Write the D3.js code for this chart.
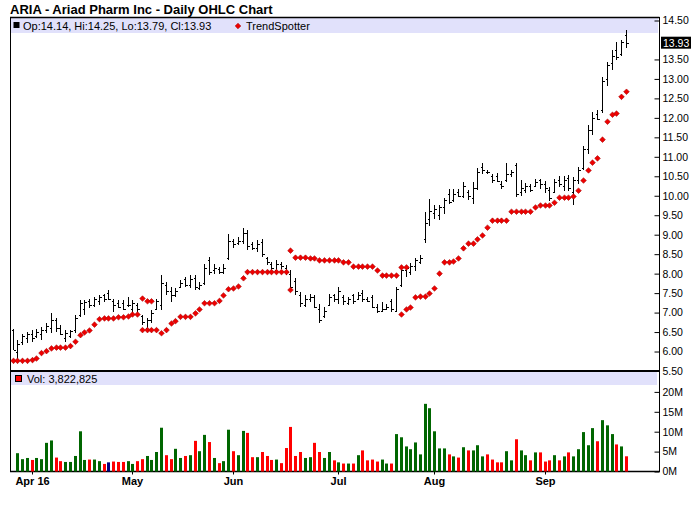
<!DOCTYPE html>
<html>
<head>
<meta charset="utf-8">
<script src="https://cdn.jsdelivr.net/npm/d3@7"></script>
<style>
body{margin:0;background:#fff;}
text{font-family:"Liberation Sans",Arial,Helvetica,sans-serif;}
</style>
</head>
<body>
<script>
var N=null;
var symbol="ARIA",company="Ariad Pharm Inc";
// daily bars, 28 Mar 2016 .. 27 Sep 2016
var opens=[6.55,6.00,6.25,6.35,6.45,6.40,6.45,6.55,6.60,6.80,
 6.60,6.35,6.40,6.55,6.95,7.10,7.30,7.20,7.30,7.45,
 7.50,7.30,7.25,7.25,7.20,7.10,7.20,6.90,6.60,6.80,
 7.10,7.20,7.70,7.55,7.45,7.65,7.85,7.70,7.90,7.62,
 7.75,8.35,8.10,8.12,8.05,8.40,8.85,8.78,8.85,9.05,
 8.75,8.65,8.80,8.40,8.25,8.10,8.25,8.15,8.00,7.80,
 7.45,7.20,7.35,7.40,7.10,6.90,7.20,7.45,7.35,7.40,
 7.25,7.45,7.35,7.50,7.35,7.40,7.15,7.05,7.10,7.30,
 7.05,7.70,8.10,8.05,8.20,8.30,8.90,9.40,9.55,9.50,
 9.70,10.05,9.90,10.10,10.00,10.10,9.95,10.20,10.75,10.62,
 10.50,10.50,10.30,10.40,10.55,10.80,10.10,10.15,10.25,10.25,
 10.40,10.30,10.15,10.10,10.40,10.25,10.45,10.10,10.40,10.70,
 11.20,11.70,12.10,12.20,13.00,13.40,13.75,13.65,14.14];
var highs=[6.59,6.29,6.46,6.51,6.55,6.59,6.64,6.72,6.98,6.85,
 6.68,6.55,6.55,6.94,7.32,7.32,7.36,7.41,7.45,7.49,
 7.58,7.36,7.32,7.32,7.41,7.32,7.24,6.94,6.85,7.06,
 7.36,7.96,7.79,7.66,7.62,7.83,7.92,7.96,7.96,7.79,
 8.26,8.43,8.26,8.18,8.24,9.03,8.90,8.94,9.18,9.13,
 8.82,8.86,8.90,8.43,8.30,8.35,8.30,8.22,8.09,7.88,
 7.53,7.45,7.49,7.45,7.23,7.15,7.49,7.49,7.66,7.45,
 7.41,7.49,7.53,7.58,7.41,7.45,7.23,7.28,7.23,7.36,
 7.66,8.18,8.22,8.28,8.40,8.47,9.59,9.91,9.76,9.77,
 9.93,10.18,10.18,10.18,10.35,10.14,10.35,10.70,10.83,10.67,
 10.55,10.59,10.37,10.83,10.65,10.85,10.40,10.33,10.31,10.44,
 10.44,10.37,10.23,10.44,10.50,10.50,10.53,10.48,10.74,11.29,
 11.81,12.15,12.21,13.06,13.43,13.73,13.94,14.00,14.25];
var lows=[6.04,5.78,6.17,6.21,6.25,6.34,6.29,6.47,6.47,6.51,
 6.42,6.25,6.34,6.47,6.89,6.94,7.11,7.15,7.19,7.28,
 7.32,7.02,7.11,7.06,7.15,6.98,7.02,6.68,6.51,6.72,
 7.06,7.06,7.45,7.28,7.41,7.62,7.66,7.62,7.58,7.58,
 7.71,7.96,8.00,8.00,7.98,8.35,8.65,8.73,8.77,8.60,
 8.60,8.56,8.43,8.22,8.09,8.00,8.13,7.96,7.58,7.45,
 7.15,7.15,7.28,7.11,6.72,6.85,7.19,7.28,7.23,7.19,
 7.19,7.23,7.32,7.28,7.28,7.11,6.99,7.02,7.06,7.02,
 7.02,7.66,7.92,7.96,8.08,8.26,8.79,9.23,9.41,9.39,
 9.54,9.80,9.84,9.97,9.93,9.88,9.80,10.14,10.57,10.55,
 10.34,10.35,10.18,10.35,10.48,9.97,10.00,10.06,10.10,10.23,
 10.18,10.06,9.87,10.06,10.23,10.12,10.12,9.76,10.31,10.65,
 11.08,11.55,11.94,12.12,12.83,13.22,13.49,13.60,13.79];
var closes=[6.05,6.20,6.40,6.45,6.35,6.50,6.55,6.65,6.80,6.60,
 6.45,6.48,6.52,6.85,7.25,7.28,7.20,7.35,7.40,7.35,
 7.35,7.20,7.15,7.10,7.20,7.25,7.10,6.75,6.80,7.00,
 7.30,7.75,7.55,7.45,7.55,7.75,7.70,7.85,7.65,7.72,
 8.15,8.05,8.15,8.05,8.15,8.85,8.75,8.85,9.05,8.70,
 8.65,8.75,8.50,8.30,8.15,8.25,8.20,8.05,7.65,7.55,
 7.25,7.35,7.40,7.15,6.80,7.05,7.40,7.35,7.55,7.30,
 7.35,7.30,7.45,7.35,7.30,7.15,7.05,7.10,7.15,7.10,
 7.60,8.10,8.15,8.20,8.35,8.40,9.30,9.60,9.65,9.70,
 9.90,9.85,10.05,10.00,10.25,10.00,10.20,10.60,10.65,10.60,
 10.40,10.38,10.25,10.55,10.60,10.05,10.20,10.25,10.15,10.35,
 10.30,10.20,9.95,10.35,10.30,10.40,10.20,10.40,10.65,11.20,
 11.70,12.00,11.98,12.95,13.35,13.60,13.55,13.95,13.93];
// volume in millions of shares
var volumes=[N,4.6,3.1,3.4,2.9,3.4,3.1,7.2,7.8,3.5,
 2.6,2.4,2.4,3.9,10.1,2.9,3.0,3.0,2.6,1.9,
 2.3,2.5,2.4,2.4,2.6,1.9,2.6,3.1,3.9,2.9,
 4.9,11.0,4.1,3.1,5.7,3.4,3.9,4.1,7.7,5.1,
 9.2,7.4,3.4,2.1,2.6,10.5,5.1,4.1,10.2,9.7,
 3.6,3.6,4.9,3.9,2.9,3.0,2.1,5.9,11.2,3.9,
 4.9,3.4,3.6,7.2,4.9,3.4,4.9,2.8,2.3,2.0,
 2.0,2.0,4.1,5.3,2.8,3.0,2.5,3.0,2.0,2.0,
 9.4,8.6,6.3,5.6,7.3,4.3,17.0,15.9,10.1,5.8,
 5.8,4.3,3.8,3.5,6.1,5.3,5.3,6.6,3.8,4.3,
 3.0,2.3,2.3,5.1,2.8,8.1,5.3,4.1,2.8,4.8,
 4.8,2.5,2.8,4.1,2.8,3.8,4.8,3.8,5.6,9.9,
 6.6,10.9,7.6,12.9,11.6,9.4,6.8,6.3,3.822825];
// TrendSpotter stops, below and above price
var trendBelow=[5.76,5.76,5.76,5.76,5.78,5.82,5.96,6.01,6.08,6.10,
 6.10,6.10,6.14,6.25,6.42,6.49,6.54,6.69,6.83,6.85,
 6.85,6.85,6.88,6.88,6.90,6.95,6.95,6.55,6.55,6.55,
 6.55,6.47,6.55,6.72,6.78,6.89,6.89,6.89,6.98,7.08,
 7.24,7.24,7.24,7.30,7.44,7.60,7.62,7.67,7.88,8.04,
 8.04,8.04,8.04,8.04,8.04,8.04,8.04,8.04,7.58,N,
 N,N,N,N,N,N,N,N,N,N,
 N,N,N,N,N,N,N,N,N,N,
 N,6.95,7.08,7.13,7.39,7.41,7.41,7.49,7.62,8.00,
 8.29,8.29,8.31,8.39,8.65,8.77,8.77,8.88,8.98,9.18,
 9.36,9.36,9.36,9.36,9.59,9.59,9.59,9.59,9.59,9.70,
 9.75,9.75,9.75,9.82,9.95,9.95,9.95,9.98,10.13,10.39,
 10.65,10.85,10.96,11.44,11.90,12.08,12.11,12.54,12.67];
var trendAbove=[N,N,N,N,N,N,N,N,N,N,
 N,N,N,N,N,N,N,N,N,N,
 N,N,N,N,N,N,N,7.36,7.29,7.29,
 N,N,N,N,N,N,N,N,N,N,
 N,N,N,N,N,N,N,N,N,N,
 N,N,N,N,N,N,N,N,8.59,8.41,
 8.41,8.41,8.39,8.39,8.34,8.34,8.34,8.34,8.34,8.29,
 8.29,8.18,8.18,8.18,8.18,8.18,8.08,7.95,7.95,7.95,
 7.95,8.16,8.16,N,N,N,N,N,N,N,
 N,N,N,N,N,N,N,N,N,N,
 N,N,N,N,N,N,N,N,N,N,
 N,N,N,N,N,N,N,N,N,N,
 N,N,N,N,N,N,N,N,N];
var monthIndex=[4,25,46,68,88,111];
var monthLabels=["Apr 16","May","Jun","Jul","Aug","Sep"];
var priceTicks=[5.5,6,6.5,7,7.5,8,8.5,9,9.5,10,10.5,11,11.5,12,12.5,13,13.5,14,14.5];
var volTicks=[0,5,10,15,20];

var W=700,H=512;
var plotL=10,plotR=659;
var last=closes.length-1;
var green="#006600",red="#ff0000",navy="#000080",strip="#e1e1fb";

var svg=d3.select("body").append("svg").attr("width",W).attr("height",H);

var x=d3.scaleLinear().domain([0,last]).range([12.5,626]);
var yP=d3.scaleLinear().domain([5.5,14.5]).range([371,20.5]);
var yV=d3.scaleLinear().domain([0,25]).range([471.5,372]);
function px(i){return Math.round(x(i))+0.5;}

svg.append("text").attr("x",10).attr("y",14)
    .attr("font-size",13).attr("font-weight","bold")
    .text(symbol+" - "+company+" - Daily OHLC Chart");

// legend strips
svg.append("rect").attr("x",plotL).attr("y",18).attr("width",plotR-plotL-1).attr("height",15).attr("fill",strip);
svg.append("rect").attr("x",plotL).attr("y",372).attr("width",plotR-plotL-2).attr("height",13).attr("fill",strip);

var f2=d3.format(".2f");
svg.append("rect").attr("x",13.5).attr("y",22).attr("width",6).attr("height",6).attr("fill","#000");
svg.append("text").attr("x",23).attr("y",29.5).attr("font-size",11)
    .text("Op:"+f2(opens[last])+", Hi:"+f2(highs[last])+", Lo:"+f2(lows[last])+", Cl:"+f2(closes[last]));
var diamond="M0,-2.8L2.8,0L0,2.8L-2.8,0Z";
svg.append("path").attr("d",diamond).attr("transform","translate(238,26)")
    .attr("fill","#e00").attr("stroke","#a00").attr("stroke-width",0.6);
svg.append("text").attr("x",246).attr("y",29.5).attr("font-size",11).text("TrendSpotter");

svg.append("rect").attr("x",15.5).attr("y",375.5).attr("width",6).attr("height",6)
    .attr("fill",red).attr("stroke","#000").attr("stroke-width",1);
svg.append("text").attr("x",27).attr("y",383).attr("font-size",11)
    .text("Vol: "+d3.format(",")(Math.round(volumes[last]*1e6)));

// frame
svg.append("line").attr("x1",plotL).attr("x2",plotR+0.5).attr("y1",17.5).attr("y2",17.5).attr("stroke","#000").attr("stroke-width",1.5);
svg.append("line").attr("x1",plotL).attr("x2",plotR+0.5).attr("y1",371).attr("y2",371).attr("stroke","#000").attr("stroke-width",2);
svg.append("line").attr("x1",plotL).attr("x2",plotR+0.5).attr("y1",471.5).attr("y2",471.5).attr("stroke","#000").attr("stroke-width",1.5);
svg.append("line").attr("x1",plotL+0.5).attr("x2",plotL+0.5).attr("y1",17).attr("y2",472).attr("stroke","#000");

// price axis (close value boxed, the tick under it dropped)
var yc=yP(closes[last]);
var pAxis=d3.axisRight(yP)
    .tickValues(priceTicks.filter(function(d){return Math.abs(yP(d)-yc)>8;}))
    .tickFormat(f2).tickSizeInner(-5).tickSizeOuter(0).tickPadding(3);
var gp=svg.append("g").attr("transform","translate("+(plotR+0.5)+",0)").call(pAxis);
gp.select(".domain").attr("d","M0,17V371");
gp.selectAll("text").attr("font-size",10.5).attr("font-family","Liberation Sans, Arial, sans-serif").attr("fill","#000");
svg.append("rect").attr("x",661).attr("y",yc-6).attr("width",30).attr("height",12).attr("fill","#000");
svg.append("text").attr("x",663).attr("y",yc+4).attr("font-size",10.5).attr("fill","#fff").text(f2(closes[last]));

var vAxis=d3.axisRight(yV).tickValues(volTicks)
    .tickFormat(function(d){return d+"M";}).tickSizeInner(-5).tickSizeOuter(0).tickPadding(3);
var gv=svg.append("g").attr("transform","translate("+(plotR+0.5)+",0)").call(vAxis);
gv.select(".domain").attr("d","M0,371V472");
gv.selectAll("text").attr("font-size",10.5).attr("font-family","Liberation Sans, Arial, sans-serif").attr("fill","#000");

var xAxis=d3.axisBottom(x).tickValues(monthIndex)
    .tickFormat(function(d,i){return monthLabels[i];}).tickSizeInner(3).tickSizeOuter(0).tickPadding(3);
var gx=svg.append("g").attr("transform","translate(0,471.5)").call(xAxis);
gx.select(".domain").remove();
gx.selectAll(".tick").attr("transform",function(d){return "translate("+px(d)+",0)";});
gx.selectAll("text").attr("font-size",11).attr("font-weight","bold")
    .attr("font-family","Liberation Sans, Arial, sans-serif").attr("fill","#000");

// volume bars
var idx=d3.range(closes.length);
function volColor(i){
    if(i===0) return green;
    var d=closes[i]-closes[i-1];
    if(Math.abs(d)<1e-9) return navy;
    return d>0?green:red;
}
svg.append("g").selectAll("rect").data(idx.filter(function(i){return volumes[i]!==null;}))
    .enter().append("rect")
    .attr("x",function(i){return Math.round(x(i))-1;})
    .attr("width",3)
    .attr("y",function(i){return yV(volumes[i]);})
    .attr("height",function(i){return yV(0)-yV(volumes[i]);})
    .attr("fill",volColor);

// OHLC bars
var bars=svg.append("g").attr("stroke","#000").attr("stroke-width",1).attr("shape-rendering","crispEdges")
    .selectAll("g").data(idx).enter().append("g");
bars.append("line").attr("x1",px).attr("x2",px)
    .attr("y1",function(i){return yP(highs[i]);}).attr("y2",function(i){return yP(lows[i]);});
bars.append("line").attr("x1",function(i){return px(i)-2;}).attr("x2",px)
    .attr("y1",function(i){return Math.round(yP(opens[i]))+0.5;}).attr("y2",function(i){return Math.round(yP(opens[i]))+0.5;});
bars.append("line").attr("x1",px).attr("x2",function(i){return px(i)+2;})
    .attr("y1",function(i){return Math.round(yP(closes[i]))+0.5;}).attr("y2",function(i){return Math.round(yP(closes[i]))+0.5;});

// TrendSpotter markers
[trendBelow,trendAbove].forEach(function(series){
    svg.append("g").selectAll("path").data(idx.filter(function(i){return series[i]!==null;}))
        .enter().append("path")
        .attr("d",diamond)
        .attr("transform",function(i){return "translate("+px(i)+","+yP(series[i])+")";})
        .attr("fill","#e00").attr("stroke","#a00").attr("stroke-width",0.6);
});
</script>
</body>
</html>
